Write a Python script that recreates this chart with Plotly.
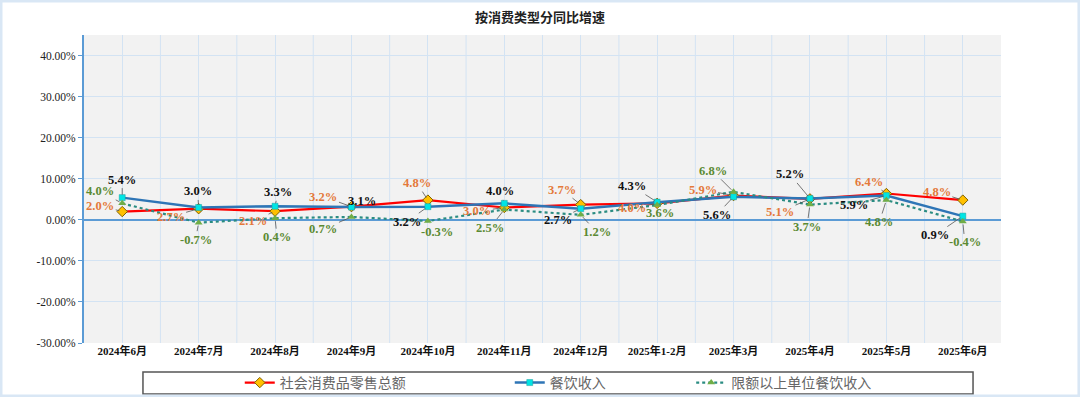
import plotly.graph_objects as go

months = ["2024年6月", "2024年7月", "2024年8月", "2024年9月", "2024年10月", "2024年11月",
          "2024年12月", "2025年1-2月", "2025年3月", "2025年4月", "2025年5月", "2025年6月"]
retail = [2.0, 2.7, 2.1, 3.2, 4.8, 3.0, 3.7, 4.0, 5.9, 5.1, 6.4, 4.8]
catering = [5.4, 3.0, 3.3, 3.1, 3.2, 4.0, 2.7, 4.3, 5.6, 5.2, 5.9, 0.9]
above_limit = [4.0, -0.7, 0.4, 0.7, -0.3, 2.5, 1.2, 3.6, 6.8, 3.7, 4.8, -0.4]
series_names = ["社会消费品零售总额", "餐饮收入", "限额以上单位餐饮收入"]
y_ticks = [-30, -20, -10, 0, 10, 20, 30, 40]
y_ticktext = ["-30.00%", "-20.00%", "-10.00%", "0.00%", "10.00%", "20.00%", "30.00%", "40.00%"]

# label offsets (pixels) for the data labels
retail_off = [(-22, -6), (-28, 8), (-22, 10), (-28, -10), (-11, -17), (-27, 4),
              (-19, -15), (-25, 5), (-31, -6), (-30, 13), (-17, -12), (-26, -8)]
catering_off = [(0, -18), (-1, -16), (3, -14), (11, -6), (-21, 15), (-4, -12),
                (-23, 11), (-25, -16), (-17, 18), (-20, -24), (-32, 9), (-28, 19)]
above_off = [(-22, -12), (-3, 17), (2, 19), (-28, 12), (9, 11), (-14, 18),
             (16, 17), (3, 8), (-21, -21), (-3, 22), (-7, 22), (2, 21)]

fig = go.Figure()
fig.add_trace(go.Scatter(
    x=months, y=retail, name=series_names[0], mode="lines+markers", legend="legend",
    line=dict(color="#FF0000", width=2.2),
    marker=dict(symbol="diamond", size=8, color="#FFC000", line=dict(color="#7F6000", width=1))))
fig.add_trace(go.Scatter(
    x=months, y=catering, name=series_names[1], mode="lines+markers", legend="legend2",
    line=dict(color="#2E75B6", width=2.5),
    marker=dict(symbol="square", size=6, color="#00E5E5", line=dict(color="#1F9F9F", width=0.5))))
fig.add_trace(go.Scatter(
    x=months, y=above_limit, name=series_names[2], mode="lines+markers", legend="legend3",
    line=dict(color="#2A8C82", width=2.2, dash="dot"),
    marker=dict(symbol="triangle-up", size=7, color="#70AD47", line=dict(width=0))))

lab_font = "Liberation Serif, Noto Sans CJK SC, serif"
anns = []
for vals, offs, col in [(retail, retail_off, "#E4793A"),
                        (catering, catering_off, "#111111"),
                        (above_limit, above_off, "#5B8A33")]:
    for m, v, (dx, dy) in zip(months, vals, offs):
        anns.append(dict(x=m, y=v, xref="x", yref="y", text=f"<b>{v:.1f}%</b>",
                         showarrow=True, arrowhead=0, arrowwidth=0.8, arrowcolor="#555555",
                         standoff=3, ax=dx, ay=dy,
                         font=dict(family=lab_font, size=12.5, color=col)))
fig.update_layout(annotations=anns)

# half-category vertical gridlines
shapes = []
for i in range(len(months) - 1):
    shapes.append(dict(type="line", xref="x", yref="paper", x0=i + 0.5, x1=i + 0.5, y0=0, y1=1,
                       line=dict(color="#D3E3F3", width=1), layer="below"))
# outer frame
shapes.append(dict(type="rect", xref="paper", yref="paper", x0=-0.0905, x1=1.085, y0=-0.172, y1=1.11,
                   line=dict(color="#D9E7F5", width=3)))
# legend frame
shapes.append(dict(type="rect", xref="paper", yref="paper", x0=0.0643, x1=0.9695, y0=-0.1656, y1=-0.0942,
                   line=dict(color="#555555", width=1.5), fillcolor="white", layer="below"))
fig.update_layout(shapes=shapes)

leg_common = dict(orientation="h", xref="container", yref="container", y=0.0353, yanchor="middle",
                  xanchor="left", bgcolor="rgba(0,0,0,0)", borderwidth=0,
                  font=dict(family="Noto Sans CJK SC", size=14, color="#666666"),
                  itemwidth=30)

fig.update_layout(
    width=1080, height=397,
    margin=dict(l=84, r=79, t=35, b=54, autoexpand=False),
    paper_bgcolor="white", plot_bgcolor="#F2F2F2",
    title=dict(text="<b>按消费类型分同比增速</b>", x=0.5, xanchor="center", y=0.957, yanchor="middle",
               font=dict(family="Noto Sans CJK SC", size=13, color="#222222")),
    font=dict(family=lab_font, color="#222222"),
    showlegend=True,
    legend=dict(leg_common, x=0.222),
    legend2=dict(leg_common, x=0.472),
    legend3=dict(leg_common, x=0.640),
    xaxis=dict(type="category", range=[-0.5, 11.5], showgrid=True, gridcolor="#D3E3F3", gridwidth=1,
               showline=False, ticks="", zeroline=False, automargin=False,
               tickfont=dict(family="Liberation Serif, Noto Sans CJK SC", size=11, color="#111111",
                             weight="bold"),
               tickangle=0),
    yaxis=dict(range=[-30, 45], tickvals=y_ticks, ticktext=y_ticktext, automargin=False,
               showgrid=True, gridcolor="#D3E3F3", gridwidth=1,
               showline=True, linecolor="#5B9BD5", linewidth=2,
               ticks="outside", ticklen=4, tickcolor="#5B9BD5",
               zeroline=True, zerolinecolor="#5B9BD5", zerolinewidth=2,
               tickfont=dict(family="Liberation Serif", size=11.5, color="#222222")),
)

fig.write_html("out.html", config={"displayModeBar": False},
               post_script="document.body.style.margin='0';document.body.style.overflow='hidden';")
